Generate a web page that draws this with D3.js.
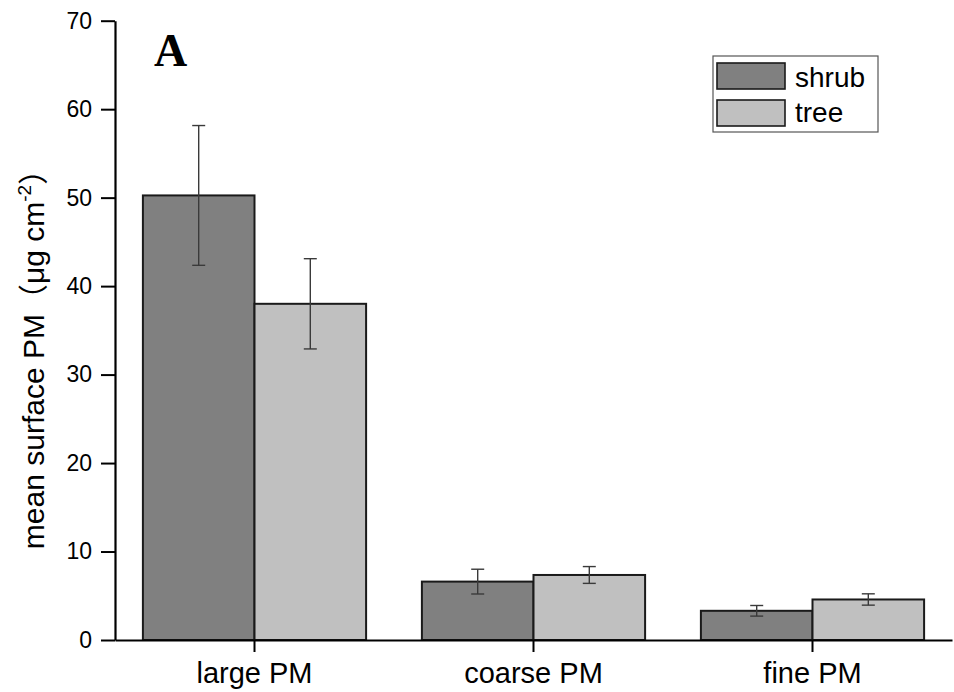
<!DOCTYPE html>
<html>
<head>
<meta charset="utf-8">
<script src="https://cdn.jsdelivr.net/npm/d3@7"></script>
<style>
  html, body { margin: 0; padding: 0; background: #fff; }
  svg { display: block; }
</style>
</head>
<body>
<svg id="chart" width="954" height="692"></svg>
<script>
const categories = ["large PM", "coarse PM", "fine PM"];
const seriesNames = ["shrub", "tree"];
const shrubValues = [50.25, 6.6, 3.3];
const shrubErrors = [7.9, 1.4, 0.6];
const treeValues = [38.0, 7.35, 4.58];
const treeErrors = [5.1, 0.95, 0.64];
const yTicks = [0, 10, 20, 30, 40, 50, 60, 70];
const seriesColors = ["#808080", "#c0c0c0"];

(function () {
const svg = d3.select("#chart");
const mLeft = 115, mRight = 952, mTop = 20.7, mBottom = 640;

const x = d3.scaleBand().domain(categories).range([mLeft, mRight]).paddingInner(0.2).paddingOuter(0.1);
const xs = d3.scaleBand().domain(seriesNames).range([0, x.bandwidth()]);
const y = d3.scaleLinear().domain([0, 70]).range([mBottom, mTop]);
const color = d3.scaleOrdinal().domain(seriesNames).range(seriesColors);

const rows = categories.map((c, i) => ({
  cat: c,
  items: [
    { s: "shrub", v: shrubValues[i], e: shrubErrors[i] },
    { s: "tree", v: treeValues[i], e: treeErrors[i] }
  ]
}));

const groups = svg.append("g").selectAll("g").data(rows).join("g")
  .attr("transform", d => `translate(${x(d.cat)},0)`);

groups.selectAll("rect").data(d => d.items).join("rect")
  .attr("x", d => xs(d.s))
  .attr("y", d => y(d.v))
  .attr("width", xs.bandwidth())
  .attr("height", d => y(0) - y(d.v))
  .attr("fill", d => color(d.s))
  .attr("stroke", "#1a1a1a")
  .attr("stroke-width", 2);

// error bars
const eb = groups.selectAll("g.err").data(d => d.items).join("g").attr("class", "err")
  .attr("stroke", "#3a3a3a").attr("stroke-width", 1.4);
eb.append("line")
  .attr("x1", d => xs(d.s) + xs.bandwidth() / 2)
  .attr("x2", d => xs(d.s) + xs.bandwidth() / 2)
  .attr("y1", d => y(d.v + d.e)).attr("y2", d => y(d.v - d.e));
eb.append("line")
  .attr("x1", d => xs(d.s) + xs.bandwidth() / 2 - 6.5)
  .attr("x2", d => xs(d.s) + xs.bandwidth() / 2 + 6.5)
  .attr("y1", d => y(d.v + d.e)).attr("y2", d => y(d.v + d.e));
eb.append("line")
  .attr("x1", d => xs(d.s) + xs.bandwidth() / 2 - 6.5)
  .attr("x2", d => xs(d.s) + xs.bandwidth() / 2 + 6.5)
  .attr("y1", d => y(d.v - d.e)).attr("y2", d => y(d.v - d.e));

// axes
const xAxis = svg.append("g").attr("transform", `translate(0,${mBottom})`)
  .call(d3.axisBottom(x).tickSize(12).tickSizeOuter(0).tickPadding(10));
xAxis.select(".domain").attr("stroke", "#000").attr("stroke-width", 2.2);
xAxis.selectAll(".tick line").attr("stroke", "#000").attr("stroke-width", 2);
xAxis.selectAll(".tick text")
  .attr("font-family", "'Liberation Sans', Arial, sans-serif")
  .attr("font-size", 29).attr("fill", "#000");

const yAxis = svg.append("g").attr("transform", `translate(${mLeft},0)`)
  .call(d3.axisLeft(y).tickValues(yTicks).tickSize(14).tickSizeOuter(0).tickPadding(9));
yAxis.select(".domain").attr("stroke", "#000").attr("stroke-width", 2.2);
yAxis.selectAll(".tick line").attr("stroke", "#000").attr("stroke-width", 2);
yAxis.selectAll(".tick text")
  .attr("font-family", "'Liberation Sans', Arial, sans-serif")
  .attr("font-size", 23).attr("fill", "#000");

// y label
const yl = svg.append("text")
  .attr("transform", "translate(44,352) rotate(-90)")
  .attr("text-anchor", "middle")
  .attr("font-family", "'Liberation Sans', Arial, sans-serif")
  .attr("font-size", 30).attr("fill", "#000");
yl.append("tspan").text("mean surface PM");
yl.append("tspan").attr("font-family", "'Noto Sans CJK SC', sans-serif").text("（");
yl.append("tspan").text("μg cm");
yl.append("tspan").attr("font-size", 19).attr("dy", -13).text("-2");
yl.append("tspan").attr("dy", 13).attr("font-family", "'Noto Sans CJK SC', sans-serif").text("）");

// panel letter
svg.append("text").attr("x", 154).attr("y", 66)
  .attr("font-family", "'Liberation Serif', 'Times New Roman', serif")
  .attr("font-weight", "bold").attr("font-size", 46).attr("fill", "#000").text("A");

// legend
const lg = svg.append("g");
lg.append("rect").attr("x", 713).attr("y", 56).attr("width", 165).attr("height", 76)
  .attr("fill", "#fff").attr("stroke", "#555").attr("stroke-width", 1.2);
const li = lg.selectAll("g.li").data(seriesNames).join("g").attr("class", "li")
  .attr("transform", (d, i) => `translate(717,${63 + i * 37})`);
li.append("rect").attr("width", 68).attr("height", 26)
  .attr("fill", d => color(d)).attr("stroke", "#1a1a1a").attr("stroke-width", 1.6);
li.append("text").attr("x", 78).attr("y", (d, i) => 24 - i * 2)
  .attr("font-family", "'Liberation Sans', Arial, sans-serif")
  .attr("font-size", 28).attr("fill", "#000").text(d => d);
})();
</script>
</body>
</html>
